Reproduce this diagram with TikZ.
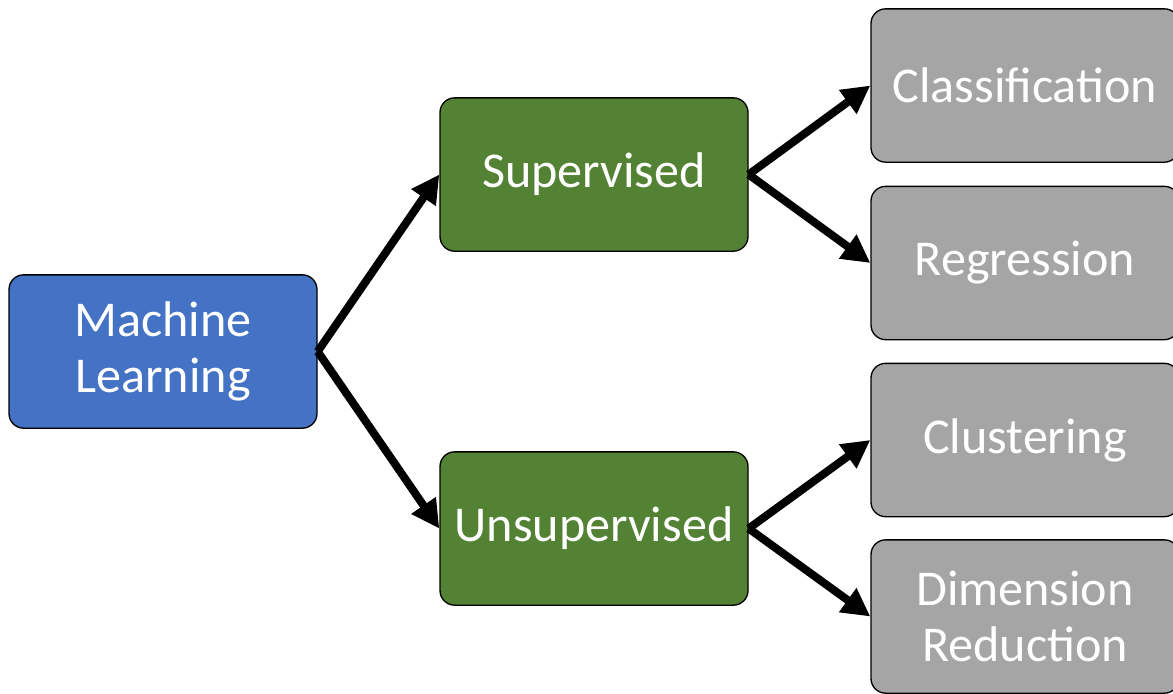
\documentclass[tikz,border=0pt]{standalone}
\usepackage{fontspec}
\setmainfont{Carlito}
\usetikzlibrary{arrows.meta}

\definecolor{mlblue}{HTML}{4472C4}
\definecolor{mlgreen}{HTML}{548235}
\definecolor{mlgray}{HTML}{A5A5A5}

\tikzset{
    box/.style={draw=black, line width=1pt, rounded corners=11pt,
        minimum width=231pt, minimum height=115pt, inner sep=0pt,
        text=white, align=center, font=\fontsize{37.6}{42}\selectfont},
    arr/.style={line width=6pt, -{Triangle[length=21pt,width=21pt]}}
}

\begin{document}
\begin{tikzpicture}[x=0.75pt, y=-0.75pt]
\useasboundingbox (0,0) rectangle (1173,693);

% root
\node[box, fill=mlblue] (ml) at (163,351.5) {Machine\\Learning};

% second level
\node[box, fill=mlgreen] (sup) at (594,174.5) {Supervised};
\node[box, fill=mlgreen] (unsup) at (594,528.5) {Unsupervised};

% leaves
\node[box, fill=mlgray] (cls) at (1025,85.5) {Classification};
\node[box, fill=mlgray] (reg) at (1025,263) {Regression};
\node[box, fill=mlgray] (clu) at (1025,440) {Clustering};
\node[box, fill=mlgray] (dim) at (1025,616.5) {Dimension\\Reduction};

\draw[arr] (ml.east) -- (sup.west);
\draw[arr] (ml.east) -- (unsup.west);
\draw[arr] (sup.east) -- (cls.west);
\draw[arr] (sup.east) -- (reg.west);
\draw[arr] (unsup.east) -- (clu.west);
\draw[arr] (unsup.east) -- (dim.west);
\end{tikzpicture}
\end{document}
